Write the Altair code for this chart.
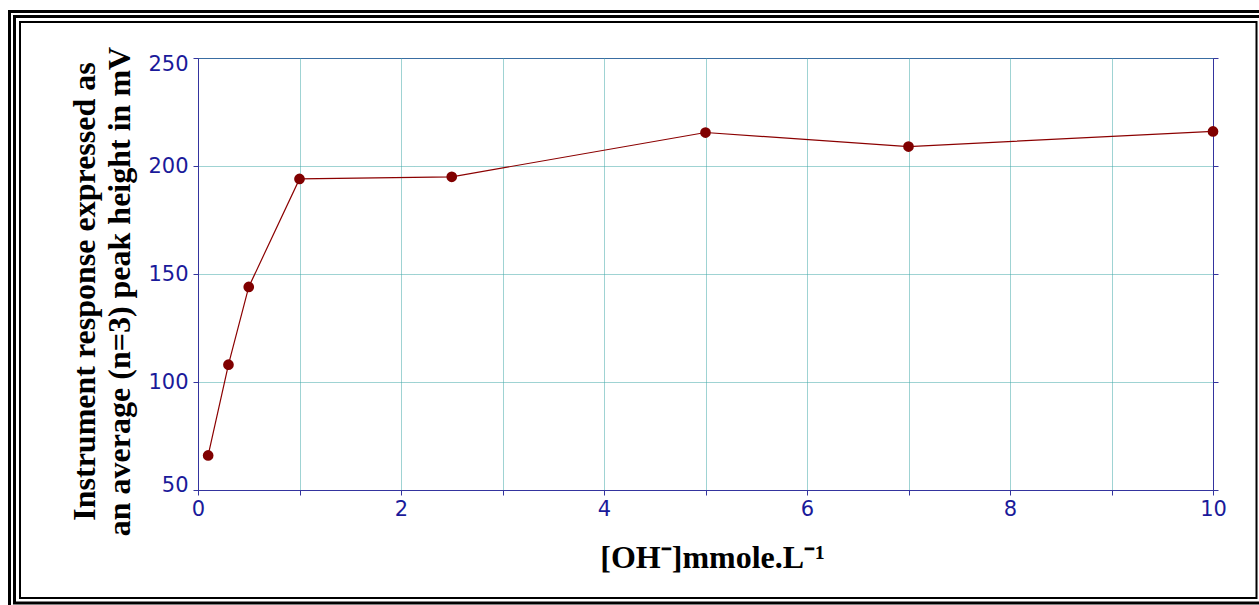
import altair as alt
import pandas as pd

# data
conc = [0.1, 0.3, 0.5, 1, 2.5, 5, 7, 10]
resp = [66, 108, 144, 194, 195, 215.5, 209, 216]
x_ticks = [0, 1, 2, 3, 4, 5, 6, 7, 8, 9, 10]
y_ticks = [50, 100, 150, 200, 250]
y_title = ["Instrument response expressed as", "an average (n=3) peak height in mV"]
x_title = "[OH\u207b]mmole.L\u207b\u00b9"

df = pd.DataFrame({"conc": conc, "resp": resp})
one = pd.DataFrame({"a": [0]})

AXIS_BLUE = "#34349e"
LABEL_BLUE = "#1a1a9a"
GRID = "#3fa6a6"
RED = "#8b0000"

xscale = alt.Scale(domain=[0, 10], nice=False, zero=False)
yscale = alt.Scale(domain=[50, 250], nice=False, zero=False)

x_enc = alt.X(
    "conc:Q", scale=xscale,
    axis=alt.Axis(
        values=x_ticks,
        labelExpr="datum.value % 2 == 0 ? datum.label : ''",
        labelFlush=False,
        title=x_title, titleFont="Liberation Serif", titleFontWeight="bold",
        titleFontSize=32, titleColor="black", titleX=514, titleY=77,
        titleBaseline="alphabetic", titleAlign="center",
        labelFont="DejaVu Sans", labelFontSize=21, labelColor=LABEL_BLUE,
        labelPadding=3, tickSize=5, tickColor=AXIS_BLUE, domainColor=AXIS_BLUE,
        grid=True, gridColor=GRID, gridDash=[1, 1], gridWidth=1,
    ),
)

y_left = alt.Y(
    "resp:Q", scale=yscale,
    axis=alt.Axis(
        values=y_ticks, title=y_title, titleFont="Liberation Serif",
        titleFontWeight="bold", titleFontSize=32, titleColor="black",
        titleLineHeight=35, titleAngle=270, titleX=-104, titleY=233,
        titleBaseline="alphabetic", titleAlign="center",
        labelFont="DejaVu Sans", labelFontSize=21, labelColor=LABEL_BLUE,
        labelPadding=5, labelFlush=True, labelFlushOffset=5, tickSize=5,
        tickColor=AXIS_BLUE, domainColor=AXIS_BLUE, grid=True, gridColor=GRID,
        gridDash=[1, 1], gridWidth=1,
    ),
)

y_right = alt.Y(
    "resp:Q", scale=yscale,
    axis=alt.Axis(
        orient="right", values=y_ticks, title=None, labels=False,
        tickSize=5, tickColor=AXIS_BLUE, domainColor=AXIS_BLUE, grid=False,
    ),
)

line = alt.Chart(df).mark_line(color=RED, strokeWidth=1.2).encode(x=x_enc, y=y_left)
pts = alt.Chart(df).mark_circle(color="#800000", size=115, opacity=1).encode(x=x_enc, y=y_right)

def frame(x1, x2, y1, y2, w):
    return alt.Chart(one).mark_rect(fill=None, stroke="black", strokeWidth=w).encode(
        x=alt.value(x1), x2=alt.value(x2), y=alt.value(y1), y2=alt.value(y2)
    )

frames = frame(-178, 1058.5, -36, 540, 2) + frame(-183.5, 1064, -41.5, 545, 3) + frame(-188.5, 1070, -46.5, 555, 3)

chart = (
    alt.layer(frames, line, pts)
    .resolve_axis(y="independent")
    .properties(
        width=1015, height=432,
        autosize=alt.AutoSizeParams(type="none"),
        padding={"left": 198, "top": 58, "right": 46, "bottom": 115},
        background="white",
    )
    .configure_view(stroke=AXIS_BLUE, strokeWidth=1)
)

chart.save("out.html", embed_options={"renderer": "svg", "actions": False})
